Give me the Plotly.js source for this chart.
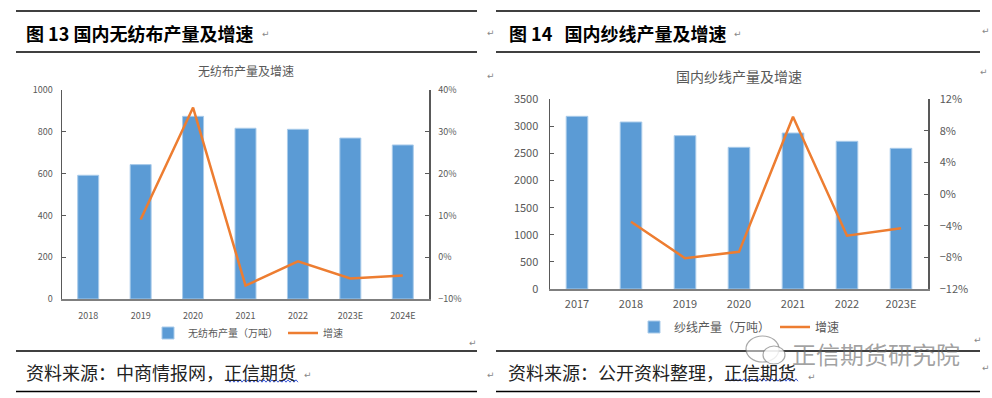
<!DOCTYPE html>
<html><head><meta charset="utf-8">
<script src="https://cdn.plot.ly/plotly-3.0.1.min.js"></script>
<style>html,body{margin:0;padding:0;background:#fff;}#c{width:992px;height:398px;}</style>
</head><body><div id="c"></div>
<script>
// ---- Chart 1 data: 国内无纺布产量及增速 ----
const years1 = ['2018','2019','2020','2021','2022','2023E','2024E'];
const output1 = [592, 643, 874, 817, 812, 770, 737];           // 万吨
const growthYears1 = ['2019','2020','2021','2022','2023E','2024E'];
const growth1 = [9.0, 35.8, -6.8, -1.0, -5.1, -4.4];            // %

// ---- Chart 2 data: 国内纱线产量及增速 ----
const years2 = ['2017','2018','2019','2020','2021','2022','2023E'];
const output2 = [3186, 3081, 2829, 2614, 2878, 2725, 2596];    // 万吨
const growthYears2 = ['2018','2019','2020','2021','2022','2023E'];
const growth2 = [-3.5, -8.1, -7.3, 9.8, -5.25, -4.3];          // %

const W = 992, H = 398;
const px = x => x / W, py = y => 1 - y / H;
const FONT = '"Noto Sans CJK SC", "Noto Sans", sans-serif';
const GREY = '#595959', BLUE = '#5b9bd5', ORANGE = '#ed7d31';

const traces = [
  {type:'bar', x: years1, y: output1, name:'无纺布产量（万吨）', xaxis:'x', yaxis:'y',
   marker:{color:BLUE, line:{color:'#a9cbea', width:1}}, legend:'legend'},
  {type:'scatter', mode:'lines', x: growthYears1, y: growth1, name:'增速', xaxis:'x', yaxis:'y2',
   line:{color:ORANGE, width:2.5}, legend:'legend'},
  {type:'bar', x: years2, y: output2, name:'纱线产量（万吨）', xaxis:'x3', yaxis:'y3',
   marker:{color:BLUE, line:{color:'#a9cbea', width:1}}, legend:'legend2'},
  {type:'scatter', mode:'lines', x: growthYears2, y: growth2, name:'增速', xaxis:'x3', yaxis:'y4',
   line:{color:ORANGE, width:2.5}, legend:'legend2'}
];

function yax(domain, range, dtick, size, opts) {
  return Object.assign({domain, range, dtick, showline:true, linecolor:GREY, linewidth:1.5,
    ticks:'inside', ticklen:4, tickcolor:GREY, showgrid:false, zeroline:false, fixedrange:true,
    tickfont:{family:FONT, size, color:GREY}}, opts);
}
function xax(domain, anchor, size, standoff) {
  return {domain, anchor, type:'category', showline:true, linecolor:'#7f7f7f', linewidth:2,
    ticks:'', showgrid:false, zeroline:false, fixedrange:true, ticklabelstandoff: standoff,
    tickfont:{family:FONT, size, color:GREY}};
}

const d1x = [px(62), px(429)], d1y = [py(299), py(90)];
const d2x = [px(550), px(928)], d2y = [py(289), py(99.3)];

const shapes = [];
function hline(x0, x1, y) {
  shapes.push({type:'line', xref:'paper', yref:'paper', x0:px(x0), x1:px(x1), y0:py(y), y1:py(y),
    line:{color:'#000', width:1.3}});
}
hline(16, 477, 11); hline(16, 477, 52); hline(16, 477, 351); hline(16, 477, 391.5);
hline(496, 980, 11); hline(496, 980, 52); hline(496, 980, 351); hline(496, 980, 391.5);

function wavy(x0, x1, y) {
  let p = 'M' + px(x0) + ',' + py(y);
  let up = true;
  for (let x = x0 + 2; x <= x1; x += 2) { p += ' L' + px(x) + ',' + py(y + (up ? -1.2 : 1.2)); up = !up; }
  shapes.push({type:'path', xref:'paper', yref:'paper', path:p, line:{color:'#3d5ad8', width:1}});
}
wavy(226, 298, 381); wavy(726, 798, 380);

// watermark icon (speech bubbles)
shapes.push({type:'circle', xref:'paper', yref:'paper', x0:px(746), x1:px(779), y0:py(362), y1:py(336),
  line:{color:'rgba(110,110,110,0.6)', width:1.2}, fillcolor:'rgba(255,255,255,0.5)'});
shapes.push({type:'circle', xref:'paper', yref:'paper', x0:px(763), x1:px(785), y0:py(364), y1:py(346),
  line:{color:'rgba(110,110,110,0.6)', width:1.2}, fillcolor:'rgba(255,255,255,0.8)'});

const annotations = [];
function txt(text, x, y, size, opts) {
  annotations.push(Object.assign({text, xref:'paper', yref:'paper', x:px(x), y:py(y), showarrow:false,
    xanchor:'left', yanchor:'middle', font:{family:FONT, size, color:'#000'}}, opts || {}));
}
txt('<b>图 13 国内无纺布产量及增速</b>', 24, 33, 18);
txt('<b>图 14\u00a0\u00a0\u00a0国内纱线产量及增速</b>', 507, 33, 18);
txt('资料来源：中商情报网，正信期货', 24, 372, 18, {font:{family:FONT, size:18, color:'#222'}});
txt('资料来源：公开资料整理，正信期货', 506, 372, 18, {font:{family:FONT, size:18, color:'#222'}});
txt('无纺布产量及增速', 245.5, 71, 12, {xanchor:'center', font:{family:FONT, size:12, color:GREY}});
txt('国内纱线产量及增速', 738.5, 76, 14, {xanchor:'center', font:{family:FONT, size:14, color:GREY}});
txt('正信期货研究院', 876, 353, 24, {xanchor:'center', font:{family:FONT, size:24, color:'rgba(100,100,100,0.6)'}});
// paragraph marks
const pm = [[260,34],[485,33],[485,76],[467,343],[302,375],[485,375],[732,34],[980,31],[978,72],[972,340],[806,377],[980,368]];
pm.forEach(([x,y]) => txt('↵', x, y, 9, {font:{family:'DejaVu Sans', size:9, color:'#888'}}));

const layout = {
  width: W, height: H, margin:{l:0, r:0, t:0, b:0}, paper_bgcolor:'#fff', plot_bgcolor:'rgba(0,0,0,0)',
  font:{family:FONT, color:GREY}, bargap:0.6, showlegend:true,
  xaxis: xax(d1x, 'y', 9, 7),
  yaxis: yax(d1y, [0, 1000], 200, 9, {anchor:'x', ticklabelstandoff:6}),
  yaxis2: yax(d1y, [-10, 40], 10, 9, {anchor:'x', overlaying:'y', side:'right', ticksuffix:'%', ticklabelstandoff:6}),
  xaxis3: xax(d2x, 'y3', 11, 4),
  yaxis3: yax(d2y, [0, 3500], 500, 11, {anchor:'x3', ticklabelstandoff:8}),
  yaxis4: yax(d2y, [-12, 12], 4, 11, {anchor:'x3', overlaying:'y3', side:'right', ticksuffix:'%', ticklabelstandoff:8}),
  legend: {orientation:'h', x:px(148), y:py(333), xanchor:'left', yanchor:'middle', bgcolor:'rgba(0,0,0,0)',
    font:{family:FONT, size:10, color:GREY}, itemwidth:30},
  legend2: {orientation:'h', x:px(634), y:py(327), xanchor:'left', yanchor:'middle', bgcolor:'rgba(0,0,0,0)',
    font:{family:FONT, size:12, color:GREY}, itemwidth:30},
  shapes, annotations
};

Plotly.newPlot('c', traces, layout, {displayModeBar:false, staticPlot:true});
</script></body></html>
